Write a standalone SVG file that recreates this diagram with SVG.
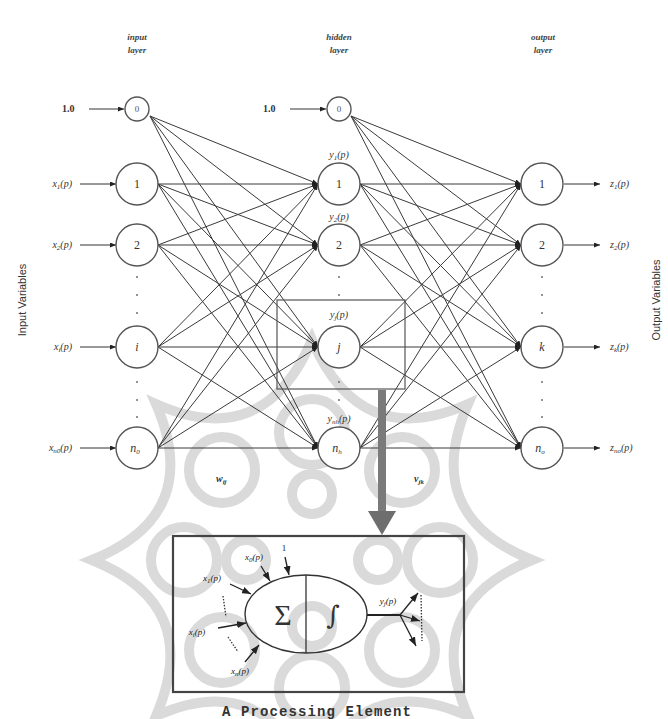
<svg xmlns="http://www.w3.org/2000/svg" width="668" height="719" viewBox="0 0 668 719">
  <style>
    .bg { fill: #ffffff; }
    .wm { fill: none; stroke: #dadada; stroke-width: 10; }
    .node { fill: #ffffff; stroke: #555555; stroke-width: 1.4; }
    .lbl { font-family: "Liberation Serif", serif; font-size: 12px; fill: #333333; text-anchor: middle; }
    .lbl0 { font-family: "Liberation Serif", serif; font-size: 9px; fill: #555555; text-anchor: middle; }
    .it { font-style: italic; }
    .hdr { font-family: "Liberation Serif", serif; font-size: 9px; font-style: italic; font-weight: bold; fill: #444444; text-anchor: middle; }
    .var { font-family: "Liberation Serif", serif; font-size: 10px; font-style: italic; fill: #333333; }
    .side { font-family: "Liberation Sans", Arial, sans-serif; font-size: 11px; fill: #333333; text-anchor: middle; }
    .sub { font-size: 7px; }
    .edge { stroke: #3a3a3a; stroke-width: 1; fill: none; }
    .feed { stroke: #333333; stroke-width: 1; fill: none; }
    .dot { fill: #666666; }
    .pe { fill: none; stroke: #444444; stroke-width: 2.2; }
    .pel { font-family: "Liberation Serif", serif; font-size: 9px; font-style: italic; fill: #222222; text-anchor: middle; }
    .cap { font-family: "Liberation Mono", "Courier New", monospace; font-size: 14px; font-weight: bold; fill: #333333; text-anchor: middle; letter-spacing: 1.1px; }
  </style>
  <defs>
    <marker id="tip" markerWidth="6" markerHeight="5" refX="6" refY="2.5" orient="auto" markerUnits="userSpaceOnUse">
      <path d="M0,0 L6,2.5 L0,5 Z" fill="#222222"/>
    </marker>
    <marker id="tipBig" markerWidth="9" markerHeight="7" refX="9" refY="3.5" orient="auto" markerUnits="userSpaceOnUse">
      <path d="M0,0 L9,3.5 L0,7 Z" fill="#222222"/>
    </marker>
  </defs>

  <rect class="bg" x="0" y="0" width="668" height="719"/>

  <!-- background rosette emblem -->
  <g id="emblem">
    <path class="wm" d="M532,560 Q420,605 468,716 Q360,668 312,780 Q264,668 156,716 Q204,605 92,560 Q204,515 156,404 Q264,452 312,340 Q360,452 468,404 Q420,515 532,560 Z"/>
    <circle class="wm" cx="440" cy="560" r="33"/>
    <circle class="wm" cx="402" cy="650" r="33"/>
    <circle class="wm" cx="312" cy="688" r="33"/>
    <circle class="wm" cx="222" cy="650" r="33"/>
    <circle class="wm" cx="184" cy="560" r="33"/>
    <circle class="wm" cx="222" cy="470" r="33"/>
    <circle class="wm" cx="312" cy="432" r="33"/>
    <circle class="wm" cx="402" cy="470" r="33"/>
    <circle class="wm" cx="378" cy="560" r="20"/>
    <circle class="wm" cx="312" cy="626" r="20"/>
    <circle class="wm" cx="246" cy="560" r="20"/>
    <circle class="wm" cx="312" cy="494" r="20"/>
  </g>

  <!-- layer headings -->
  <g id="headings">
    <text class="hdr" x="137" y="40">input</text>
    <text class="hdr" x="137" y="53">layer</text>
    <text class="hdr" x="339" y="40">hidden</text>
    <text class="hdr" x="339" y="53">layer</text>
    <text class="hdr" x="543" y="40">output</text>
    <text class="hdr" x="543" y="53">layer</text>
  </g>

  <text class="side" transform="translate(26,300) rotate(-90)">Input Variables</text>
  <text class="side" transform="translate(660,300) rotate(-90)">Output Variables</text>

  <!-- connectors -->
  <g id="connectors">
    <!-- input layer to hidden layer -->
    <g class="edge" marker-end="url(#tip)">
      <path d="M150,116 L318,184"/><path d="M150,116 L318,245"/><path d="M150,116 L318,347"/><path d="M150,116 L318,448"/>
      <path d="M158,184 L318,184"/><path d="M158,184 L318,245"/><path d="M158,184 L318,347"/><path d="M158,184 L318,448"/>
      <path d="M158,245 L318,184"/><path d="M158,245 L318,245"/><path d="M158,245 L318,347"/><path d="M158,245 L318,448"/>
      <path d="M158,347 L318,184"/><path d="M158,347 L318,245"/><path d="M158,347 L318,347"/><path d="M158,347 L318,448"/>
      <path d="M158,448 L318,184"/><path d="M158,448 L318,245"/><path d="M158,448 L318,347"/><path d="M158,448 L318,448"/>
    </g>
    <!-- hidden layer to output layer -->
    <g class="edge" marker-end="url(#tip)">
      <path d="M351,116 L521,184"/><path d="M351,116 L521,245"/><path d="M351,116 L521,347"/><path d="M351,116 L521,448"/>
      <path d="M360,184 L521,184"/><path d="M360,184 L521,245"/><path d="M360,184 L521,347"/><path d="M360,184 L521,448"/>
      <path d="M360,245 L521,184"/><path d="M360,245 L521,245"/><path d="M360,245 L521,347"/><path d="M360,245 L521,448"/>
      <path d="M360,347 L521,184"/><path d="M360,347 L521,245"/><path d="M360,347 L521,347"/><path d="M360,347 L521,448"/>
      <path d="M360,448 L521,184"/><path d="M360,448 L521,245"/><path d="M360,448 L521,347"/><path d="M360,448 L521,448"/>
    </g>
    <!-- external inputs and outputs -->
    <g class="feed" marker-end="url(#tip)">
      <path d="M89,109 L124,109"/>
      <path d="M290,109 L326,109"/>
      <path d="M80,184 L116,184"/>
      <path d="M80,245 L116,245"/>
      <path d="M80,347 L116,347"/>
      <path d="M80,448 L116,448"/>
      <path d="M564,184 L600,184"/>
      <path d="M564,245 L600,245"/>
      <path d="M564,347 L600,347"/>
      <path d="M564,448 L600,448"/>
    </g>
    <!-- frame around hidden neuron j -->
    <rect x="277" y="300" width="128" height="89" fill="none" stroke="#555555" stroke-width="1.2"/>
    <!-- zoom arrow to the processing element -->
    <rect x="378" y="390" width="8" height="124" fill="#7a7a7a"/>
    <path d="M368,511 L396,511 L382,535 Z" fill="#6e6e6e"/>
  </g>

  <!-- input layer -->
  <g id="in0"><circle class="node" cx="137" cy="109" r="12"/><text class="lbl0" x="137" y="112">0</text></g>
  <g id="in1"><circle class="node" cx="137" cy="184" r="21"/><text class="lbl" x="137" y="188">1</text></g>
  <g id="in2"><circle class="node" cx="137" cy="245" r="21"/><text class="lbl" x="137" y="249">2</text></g>
  <g id="inI"><circle class="node" cx="137" cy="347" r="21"/><text class="lbl it" x="137" y="351">i</text></g>
  <g id="inN"><circle class="node" cx="137" cy="448" r="21"/><text class="lbl it" x="135" y="452">n<tspan class="sub" dy="2">0</tspan></text></g>

  <!-- hidden layer -->
  <g id="hid0"><circle class="node" cx="339" cy="109" r="12"/><text class="lbl0" x="339" y="112">0</text></g>
  <g id="hid1"><circle class="node" cx="339" cy="184" r="21"/><text class="lbl" x="339" y="188">1</text></g>
  <g id="hid2"><circle class="node" cx="339" cy="245" r="21"/><text class="lbl" x="339" y="249">2</text></g>
  <g id="hidJ"><circle class="node" cx="339" cy="347" r="21"/><text class="lbl it" x="339" y="351">j</text></g>
  <g id="hidN"><circle class="node" cx="339" cy="448" r="21"/><text class="lbl it" x="337" y="452">n<tspan class="sub" dy="2">h</tspan></text></g>

  <!-- output layer -->
  <g id="out1"><circle class="node" cx="542" cy="184" r="21"/><text class="lbl" x="542" y="188">1</text></g>
  <g id="out2"><circle class="node" cx="542" cy="245" r="21"/><text class="lbl" x="542" y="249">2</text></g>
  <g id="outK"><circle class="node" cx="542" cy="347" r="21"/><text class="lbl it" x="542" y="351">k</text></g>
  <g id="outN"><circle class="node" cx="542" cy="448" r="21"/><text class="lbl it" x="540" y="452">n<tspan class="sub" dy="2">o</tspan></text></g>

  <!-- ellipsis dots between neurons -->
  <g id="dots">
    <rect class="dot" x="136.3" y="276" width="1.4" height="2"/><rect class="dot" x="136.3" y="294" width="1.4" height="2"/><rect class="dot" x="136.3" y="312" width="1.4" height="2"/>
    <rect class="dot" x="136.3" y="381" width="1.4" height="2"/><rect class="dot" x="136.3" y="399" width="1.4" height="2"/><rect class="dot" x="136.3" y="416" width="1.4" height="2"/>
    <rect class="dot" x="338.3" y="276" width="1.4" height="2"/><rect class="dot" x="338.3" y="294" width="1.4" height="2"/>
    <rect class="dot" x="338.3" y="381" width="1.4" height="2"/><rect class="dot" x="338.3" y="399" width="1.4" height="2"/>
    <rect class="dot" x="541.3" y="276" width="1.4" height="2"/><rect class="dot" x="541.3" y="294" width="1.4" height="2"/><rect class="dot" x="541.3" y="312" width="1.4" height="2"/>
    <rect class="dot" x="541.3" y="381" width="1.4" height="2"/><rect class="dot" x="541.3" y="399" width="1.4" height="2"/><rect class="dot" x="541.3" y="416" width="1.4" height="2"/>
  </g>

  <!-- signal labels -->
  <g id="labels">
    <text class="var" x="62" y="112" style="font-style:normal;font-weight:bold">1.0</text>
    <text class="var" x="263" y="112" style="font-style:normal;font-weight:bold">1.0</text>
    <text class="var" x="72" y="187" text-anchor="end">x<tspan class="sub" dy="2">1</tspan><tspan dy="-2">(p)</tspan></text>
    <text class="var" x="72" y="248" text-anchor="end">x<tspan class="sub" dy="2">2</tspan><tspan dy="-2">(p)</tspan></text>
    <text class="var" x="72" y="350" text-anchor="end">x<tspan class="sub" dy="2">i</tspan><tspan dy="-2">(p)</tspan></text>
    <text class="var" x="72" y="451" text-anchor="end">x<tspan class="sub" dy="2">n0</tspan><tspan dy="-2">(p)</tspan></text>
    <text class="var" x="339" y="158" text-anchor="middle">y<tspan class="sub" dy="2">1</tspan><tspan dy="-2">(p)</tspan></text>
    <text class="var" x="339" y="220" text-anchor="middle">y<tspan class="sub" dy="2">2</tspan><tspan dy="-2">(p)</tspan></text>
    <text class="var" x="339" y="318" text-anchor="middle">y<tspan class="sub" dy="2">j</tspan><tspan dy="-2">(p)</tspan></text>
    <text class="var" x="339" y="422" text-anchor="middle">y<tspan class="sub" dy="2">nh</tspan><tspan dy="-2">(p)</tspan></text>
    <text class="var" x="610" y="187">z<tspan class="sub" dy="2">1</tspan><tspan dy="-2">(p)</tspan></text>
    <text class="var" x="610" y="248">z<tspan class="sub" dy="2">2</tspan><tspan dy="-2">(p)</tspan></text>
    <text class="var" x="610" y="350">z<tspan class="sub" dy="2">k</tspan><tspan dy="-2">(p)</tspan></text>
    <text class="var" x="610" y="451">z<tspan class="sub" dy="2">no</tspan><tspan dy="-2">(p)</tspan></text>
    <text class="var" x="216" y="482" style="font-weight:bold">w<tspan class="sub" dy="2">ij</tspan></text>
    <text class="var" x="414" y="482" style="font-weight:bold">v<tspan class="sub" dy="2">jk</tspan></text>
  </g>

  <!-- processing element detail -->
  <g id="processingElement">
    <rect class="pe" x="173" y="536" width="291" height="156"/>
    <ellipse cx="306" cy="614" rx="61" ry="39" fill="none" stroke="#333333" stroke-width="1.4"/>
    <line x1="306" y1="575" x2="306" y2="653" stroke="#333333" stroke-width="1.3"/>
    <text x="283" y="625" font-family="Liberation Serif, serif" font-size="30" fill="#333333" text-anchor="middle">Σ</text>
    <text x="333" y="624" font-family="DejaVu Serif, Liberation Serif, serif" font-size="26" fill="#333333" text-anchor="middle">∫</text>
    <g stroke="#222222" stroke-width="1.3" fill="none" marker-end="url(#tipBig)">
      <path d="M285,557 L289,575"/>
      <path d="M261,566 L270,581"/>
      <path d="M230,584 L251,594"/>
      <path d="M218,628 L246,623"/>
      <path d="M245,662 L259,645"/>
      <path d="M400,615 L418,593"/>
      <path d="M400,615 L420,621"/>
      <path d="M400,615 L416,646"/>
    </g>
    <g stroke="#333333" stroke-width="1.3" fill="none" stroke-dasharray="1.5,1.5">
      <path d="M223,596 L226,617"/>
      <path d="M228,637 L238,652"/>
      <path d="M421,595 L422,641"/>
    </g>
    <line x1="367" y1="615" x2="400" y2="615" stroke="#222222" stroke-width="2"/>
    <text class="pel" x="284" y="551" style="font-style:normal">1</text>
    <text class="pel" x="254" y="560">x<tspan class="sub" dy="2">0</tspan><tspan dy="-2">(p)</tspan></text>
    <text class="pel" x="212" y="581">x<tspan class="sub" dy="2">1</tspan><tspan dy="-2">(p)</tspan></text>
    <text class="pel" x="197" y="635">x<tspan class="sub" dy="2">i</tspan><tspan dy="-2">(p)</tspan></text>
    <text class="pel" x="240" y="674">x<tspan class="sub" dy="2">n</tspan><tspan dy="-2">(p)</tspan></text>
    <text class="pel" x="388" y="604">y<tspan class="sub" dy="2">j</tspan><tspan dy="-2">(p)</tspan></text>
  </g>
  <text class="cap" x="317" y="716">A Processing Element</text>
</svg>
